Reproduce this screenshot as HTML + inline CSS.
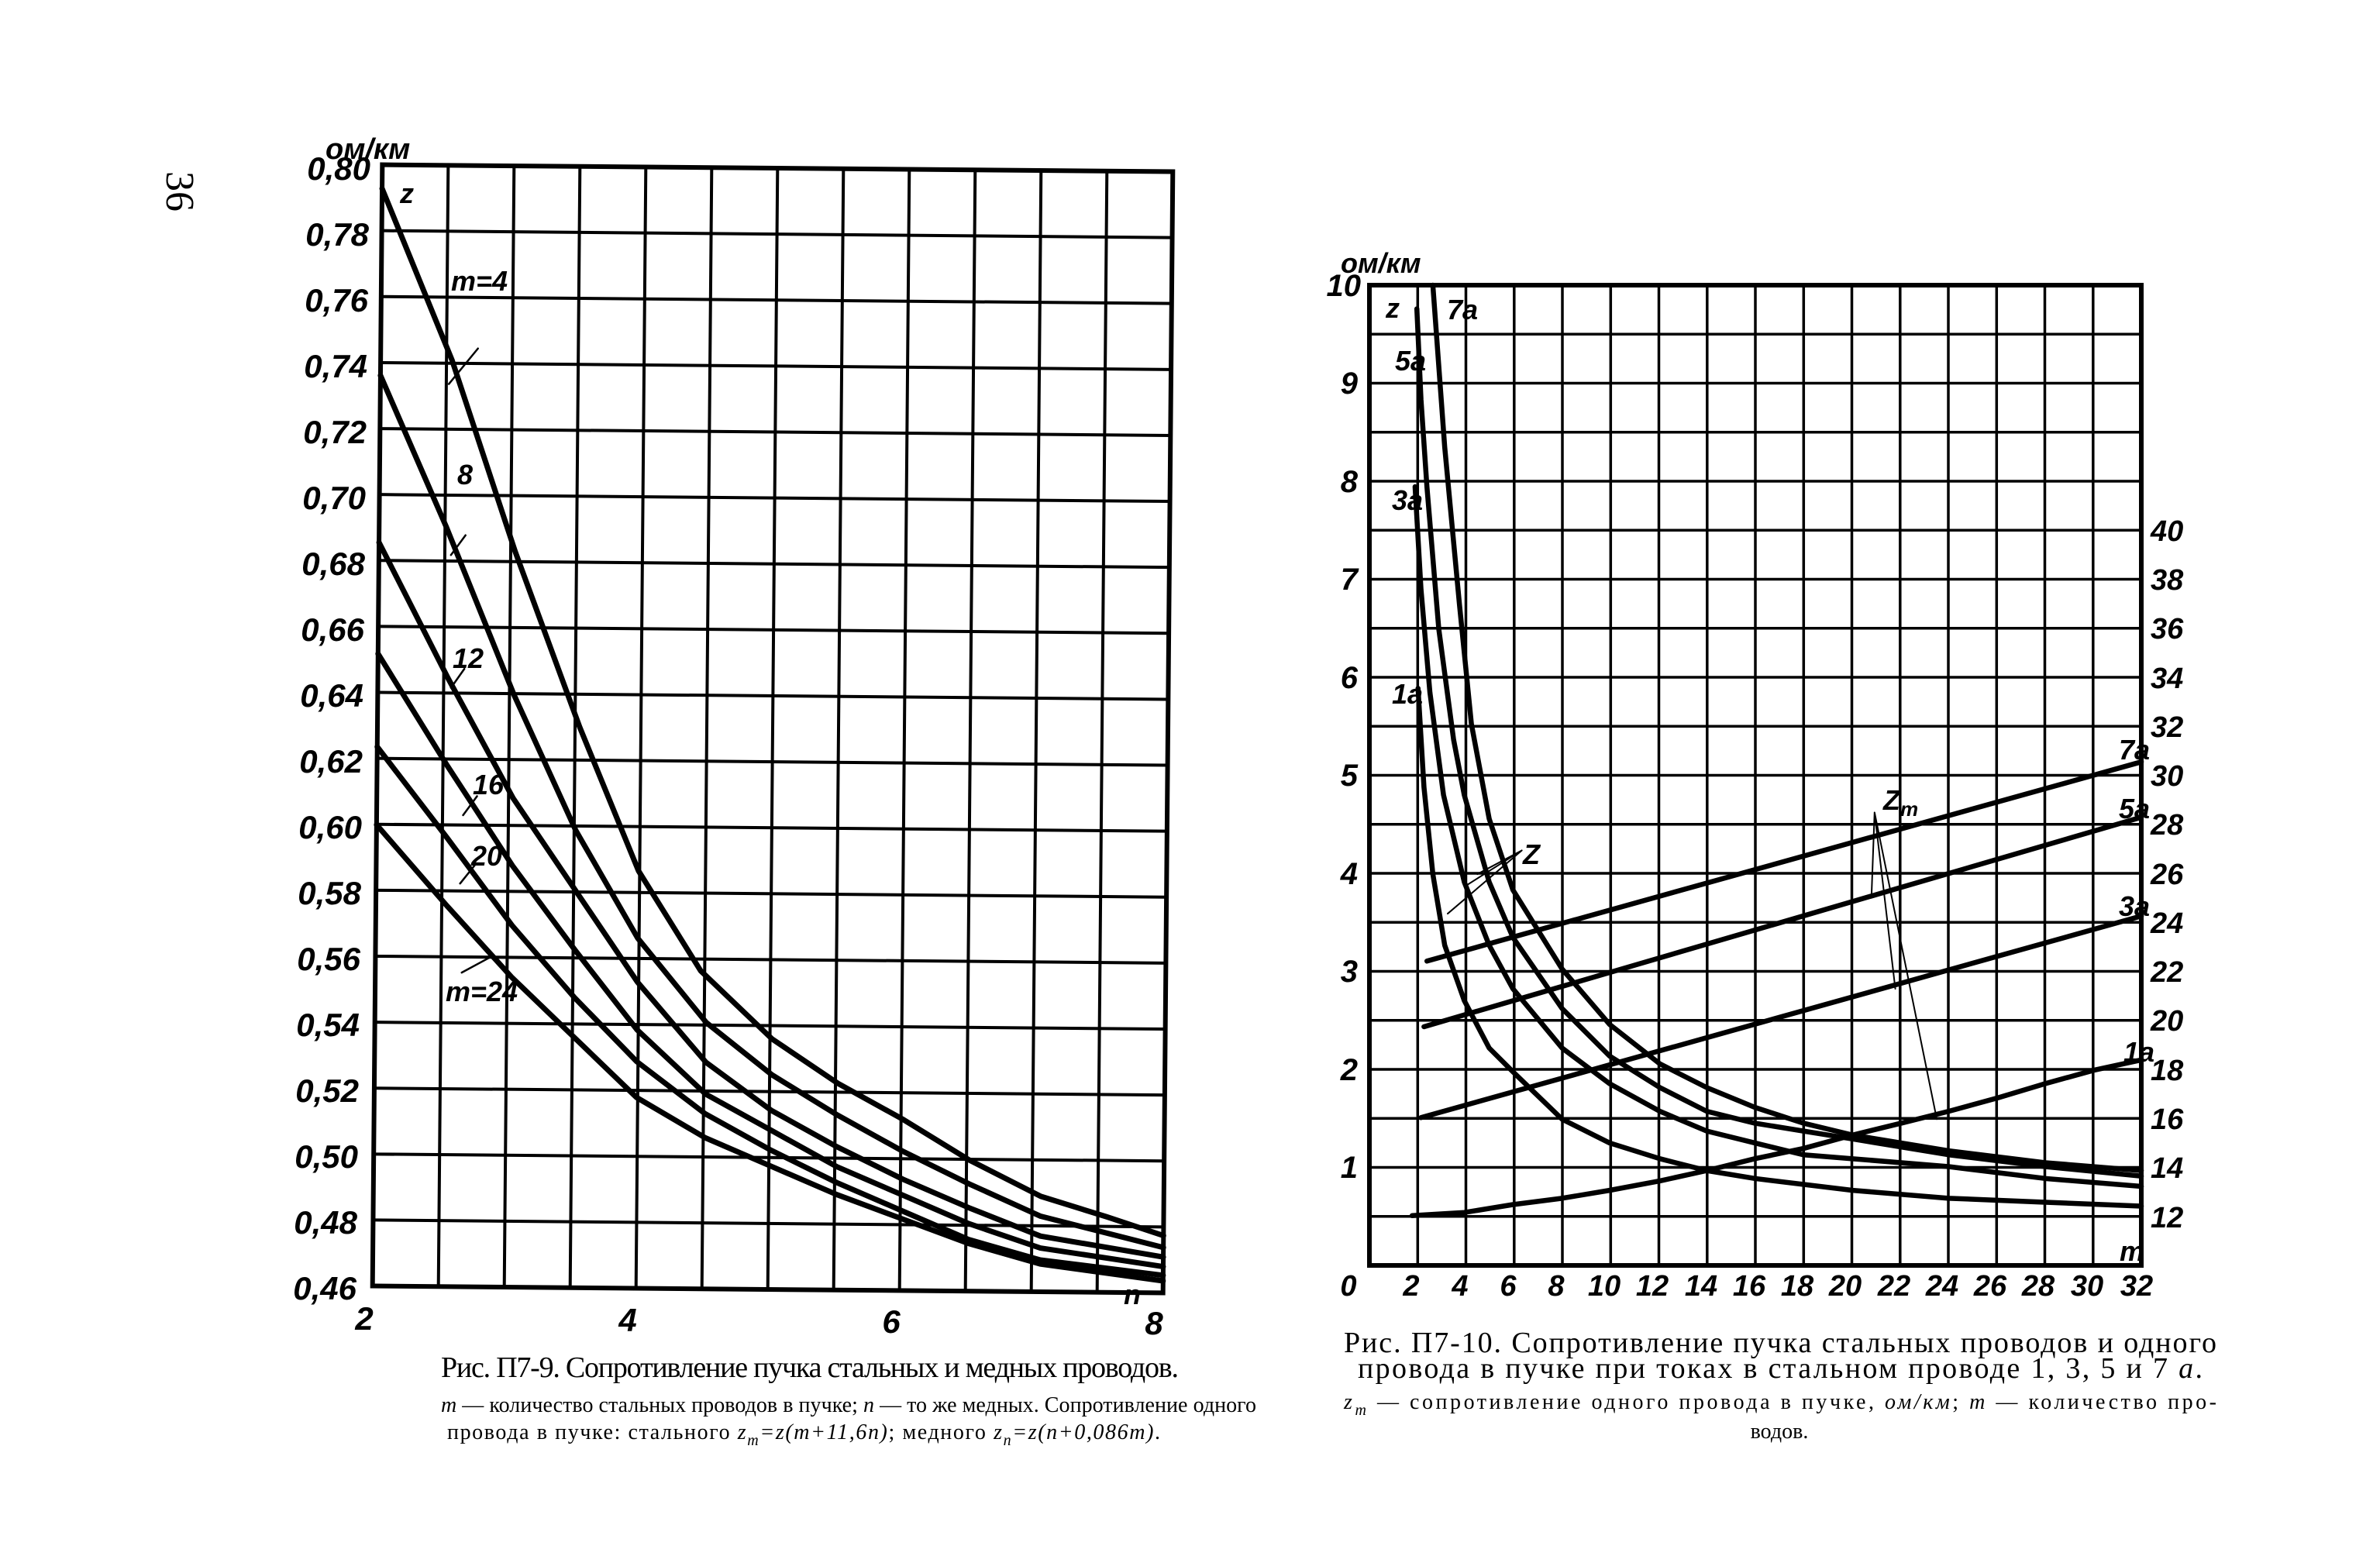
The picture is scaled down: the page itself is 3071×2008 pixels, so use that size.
<!DOCTYPE html>
<html><head><meta charset="utf-8"><style>
html,body{margin:0;padding:0;background:#fff;}
svg{display:block;}
.t{font-family:"Liberation Sans",sans-serif;font-style:italic;font-weight:bold;fill:#000;}
.c{font-family:"Liberation Serif",serif;fill:#000;}
</style></head><body>
<svg width="3071" height="2008" viewBox="0 0 3071 2008" xmlns="http://www.w3.org/2000/svg">
<rect width="3071" height="2008" fill="#fff"/>
<text class="c" x="227" y="247" font-size="52" transform="rotate(90 227 247)" text-anchor="middle" dominant-baseline="middle">36</text>

<!-- LEFT CHART -->
<g transform="rotate(0.5 997 940)">
<g stroke="#000" stroke-width="4" fill="none">
<path d="M572 217V1664M657 217V1664M742 217V1664M827 217V1664M912 217V1664M997 217V1664M1082 217V1664M1167 217V1664M1252 217V1664M1337 217V1664M1422 217V1664"/>
<path d="M487 302.1H1507M487 387.2H1507M487 472.4H1507M487 557.5H1507M487 642.6H1507M487 727.7H1507M487 812.8H1507M487 898H1507M487 983.1H1507M487 1068.2H1507M487 1153.3H1507M487 1238.4H1507M487 1323.6H1507M487 1408.7H1507M487 1493.8H1507M487 1578.9H1507"/>
</g>
<rect x="487" y="217" width="1020" height="1447" fill="none" stroke="#000" stroke-width="6"/>
<g transform="matrix(0.7745,0,0,1.0262,395.6,160.6)" fill="none" stroke="#000" stroke-width="7" stroke-linejoin="round" stroke-linecap="round">
<polyline vector-effect="non-scaling-stroke" points="118,85 237,300 345,540 455,760 555,940 660,1065 780,1150 890,1205 1000,1250 1110,1300 1230,1345 1340,1370 1435,1393"/>
<polyline vector-effect="non-scaling-stroke" points="118,320 230,510 345,720 450,890 555,1025 670,1130 780,1195 890,1245 1000,1290 1110,1330 1230,1370 1435,1408"/>
<polyline vector-effect="non-scaling-stroke" points="118,530 235,700 345,850 450,965 555,1080 670,1180 780,1240 890,1285 1000,1325 1110,1360 1230,1395 1435,1420"/>
<polyline vector-effect="non-scaling-stroke" points="118,670 235,810 345,935 450,1040 555,1140 670,1220 780,1265 890,1310 1000,1345 1110,1380 1230,1410 1435,1432"/>
<polyline vector-effect="non-scaling-stroke" points="118,787 235,900 345,1010 450,1100 555,1180 670,1245 780,1290 890,1330 1000,1365 1110,1400 1230,1425 1435,1443"/>
<polyline vector-effect="non-scaling-stroke" points="118,885 235,985 345,1075 450,1150 555,1225 670,1275 780,1310 890,1345 1000,1375 1110,1405 1230,1430 1435,1450"/>
<g stroke-width="2.5">
<path vector-effect="non-scaling-stroke" d="M280 285L232 330M262 520L238 545M262 688L240 712M285 848L262 872M282 935L258 958M262 1070L310 1050"/>
</g>
</g>
</g>
<g class="t" font-size="36">
<text x="525" y="262" text-anchor="middle">z</text>
<text x="582" y="375">m=4</text>
<text x="590" y="625">8</text>
<text x="584" y="862">12</text>
<text x="610" y="1025">16</text>
<text x="608" y="1117">20</text>
<text x="575" y="1292">m=24</text>
<text x="1450" y="1683">n</text>
</g>
<g class="t" font-size="42" text-anchor="end">
<text x="478" y="232">0,80</text><text x="476" y="317">0,78</text><text x="475" y="402">0,76</text><text x="474" y="487">0,74</text><text x="473" y="572">0,72</text><text x="472" y="657">0,70</text><text x="471" y="742">0,68</text><text x="470" y="827">0,66</text><text x="469" y="912">0,64</text><text x="468" y="997">0,62</text><text x="467" y="1082">0,60</text><text x="466" y="1167">0,58</text><text x="465" y="1252">0,56</text><text x="464" y="1337">0,54</text><text x="463" y="1422">0,52</text><text x="462" y="1507">0,50</text><text x="461" y="1592">0,48</text><text x="460" y="1677">0,46</text>
</g>
<text class="t" x="420" y="205" font-size="38">ом/км</text>
<g class="t" font-size="42" text-anchor="middle">
<text x="470" y="1716">2</text><text x="810" y="1718">4</text><text x="1150" y="1720">6</text><text x="1489" y="1722">8</text>
</g>
<text class="c" x="569" y="1777" font-size="38" textLength="952">Рис. П7-9. Сопротивление пучка стальных и медных проводов.</text>
<text class="c" x="569" y="1822" font-size="28" textLength="1052"><tspan font-style="italic">m</tspan> — количество стальных проводов в пучке; <tspan font-style="italic">n</tspan> — то же медных. Сопротивление одного</text>
<text class="c" x="577" y="1857" font-size="28" textLength="920">провода в пучке: стального <tspan font-style="italic">z<tspan font-size="20" dy="8">m</tspan><tspan dy="-8">=z(m+11,6n)</tspan></tspan>; медного <tspan font-style="italic">z<tspan font-size="20" dy="8">n</tspan><tspan dy="-8">=z(n+0,086m)</tspan></tspan>.</text>

<!-- RIGHT CHART -->
<g stroke="#000" stroke-width="3.5" fill="none">
<path d="M1829.3 368V1633M1891.5 368V1633M1953.8 368V1633M2016 368V1633M2078.3 368V1633M2140.5 368V1633M2202.8 368V1633M2265 368V1633M2327.3 368V1633M2389.5 368V1633M2451.8 368V1633M2514 368V1633M2576.3 368V1633M2638.5 368V1633M2700.8 368V1633"/>
<path d="M1767 431.3H2763M1767 494.5H2763M1767 557.8H2763M1767 621H2763M1767 684.3H2763M1767 747.5H2763M1767 810.8H2763M1767 874H2763M1767 937.3H2763M1767 1000.5H2763M1767 1063.8H2763M1767 1127H2763M1767 1190.3H2763M1767 1253.5H2763M1767 1316.8H2763M1767 1380H2763M1767 1443.3H2763M1767 1506.5H2763M1767 1569.8H2763"/>
</g>
<rect x="1767" y="368" width="996" height="1265" fill="none" stroke="#000" stroke-width="6"/>
<g transform="matrix(0.765,0,0,1.0202,1699.7,322.1)" fill="none" stroke="#000" stroke-width="6.5" stroke-linejoin="round" stroke-linecap="round">
<polyline vector-effect="non-scaling-stroke" points="170,555 180,680 195,790 215,880 248,950 290,1010 330,1040 413,1100 493,1130 578,1150 657,1165 738,1175 903,1190 1065,1200 1228,1205 1390,1210"/>
<polyline vector-effect="non-scaling-stroke" points="165,300 175,430 190,560 213,690 248,800 290,880 330,935 413,1010 493,1055 578,1090 657,1115 738,1130 820,1145 903,1150 1065,1160 1228,1175 1390,1185"/>
<polyline vector-effect="non-scaling-stroke" points="168,75 175,190 185,300 205,480 230,620 248,690 290,800 330,870 413,960 493,1020 578,1060 657,1090 738,1105 820,1115 903,1125 1065,1145 1228,1160 1390,1172"/>
<polyline vector-effect="non-scaling-stroke" points="195,45 215,250 240,450 260,600 290,720 330,810 413,910 493,980 578,1030 657,1060 738,1085 820,1105 903,1120 1065,1140 1228,1155 1390,1165"/>
<polyline vector-effect="non-scaling-stroke" points="185,900 1390,648"/>
<polyline vector-effect="non-scaling-stroke" points="180,983 1390,718"/>
<polyline vector-effect="non-scaling-stroke" points="175,1098 1390,843"/>
<polyline vector-effect="non-scaling-stroke" points="160,1222 248,1218 330,1208 413,1200 493,1190 578,1178 657,1165 738,1150 820,1137 903,1120 985,1105 1065,1090 1148,1073 1228,1055 1310,1038 1390,1025"/>
<g stroke-width="2">
<path vector-effect="non-scaling-stroke" d="M345 760L220 840M345 760L250 805M345 760L270 790M940 712L935 815M940 712L975 935M940 712L1045 1100"/>
</g>
</g>
<g class="t" font-size="36">
<text x="1788" y="410">z</text>
<text x="1867" y="412">7a</text>
<text x="1800" y="478">5a</text>
<text x="1796" y="658">3a</text>
<text x="1796" y="908">1a</text>
<text x="1965" y="1115">Z</text>
<text x="2430" y="1045">Z<tspan font-size="26" dy="8">m</tspan></text>
<text x="2734" y="980">7a</text>
<text x="2734" y="1056">5a</text>
<text x="2734" y="1182">3a</text>
<text x="2740" y="1370">1a</text>
<text x="2735" y="1627">m</text>
</g>
<g class="t" font-size="40" text-anchor="end">
<text x="1756" y="382">10</text><text x="1752" y="508">9</text><text x="1752" y="635">8</text><text x="1752" y="761">7</text><text x="1752" y="888">6</text><text x="1752" y="1014">5</text><text x="1752" y="1141">4</text><text x="1752" y="1267">3</text><text x="1752" y="1394">2</text><text x="1752" y="1520">1</text>
</g>
<g class="t" font-size="38">
<text x="2775" y="698">40</text><text x="2775" y="761">38</text><text x="2775" y="824">36</text><text x="2775" y="888">34</text><text x="2775" y="951">32</text><text x="2775" y="1014">30</text><text x="2775" y="1077">28</text><text x="2775" y="1141">26</text><text x="2775" y="1204">24</text><text x="2775" y="1267">22</text><text x="2775" y="1330">20</text><text x="2775" y="1394">18</text><text x="2775" y="1457">16</text><text x="2775" y="1520">14</text><text x="2775" y="1584">12</text>
</g>
<g class="t" font-size="38" text-anchor="middle">
<text x="1740" y="1672">0</text><text x="1821" y="1672">2</text><text x="1884" y="1672">4</text><text x="1946" y="1672">6</text><text x="2008" y="1672">8</text><text x="2070" y="1672">10</text><text x="2132" y="1672">12</text><text x="2195" y="1672">14</text><text x="2257" y="1672">16</text><text x="2319" y="1672">18</text><text x="2381" y="1672">20</text><text x="2444" y="1672">22</text><text x="2506" y="1672">24</text><text x="2568" y="1672">26</text><text x="2630" y="1672">28</text><text x="2693" y="1672">30</text><text x="2757" y="1672">32</text>
</g>
<text class="t" x="1730" y="352" font-size="36">ом/км</text>
<text class="c" x="1734" y="1745" font-size="38" textLength="1126">Рис. П7-10. Сопротивление пучка стальных проводов и одного</text>
<text class="c" x="1752" y="1778" font-size="38" textLength="1090">провода в пучке при токах в стальном проводе 1, 3, 5 и 7 <tspan font-style="italic">а</tspan>.</text>
<text class="c" x="1734" y="1818" font-size="28" textLength="1126"><tspan font-style="italic">z<tspan font-size="20" dy="8">m</tspan></tspan><tspan dy="-8"> — сопротивление одного провода в пучке, </tspan><tspan font-style="italic">ом/км</tspan>; <tspan font-style="italic">m</tspan> — количество про-</text>
<text class="c" x="2296" y="1856" font-size="28" text-anchor="middle">водов.</text>
</svg>
</body></html>
